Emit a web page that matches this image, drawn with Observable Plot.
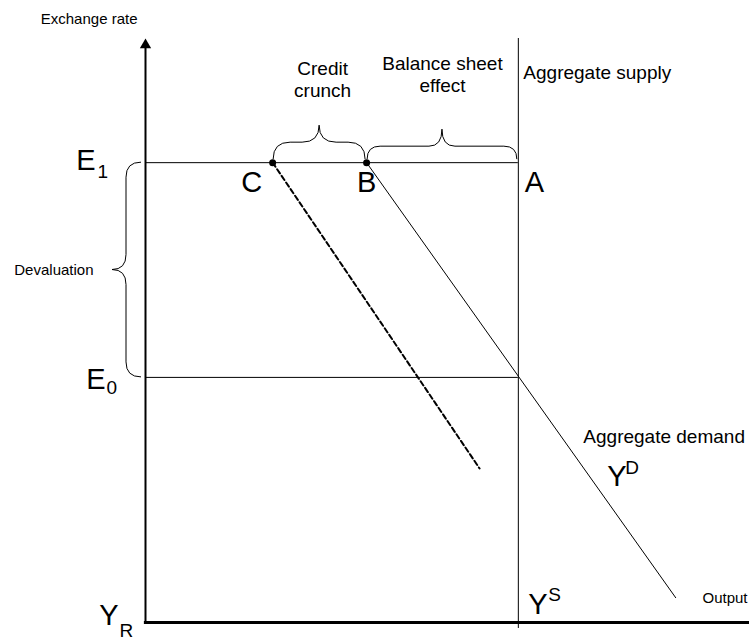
<!DOCTYPE html>
<html><head><meta charset="utf-8">
<script src="https://cdn.jsdelivr.net/npm/d3@7"></script>
<script src="https://cdn.jsdelivr.net/npm/@observablehq/plot@0.6"></script>
<style>body{margin:0;background:#fff}</style>
</head><body><div id="chart"></div>
<script>
// Abstract units: output (x) 0..162 with aggregate supply Y^S = 100; exchange rate (y) 0..127 with E1 = 100
const xMax = 162, yMax = 127;
const outputSupply = 100;
const rateNames = ["1", "0"];
const rateValues = [100, 53.3];
const demandOutput = [59.3, 142.2];
const demandRate = [100, 5.4];
const crunchOutput = [34.1, 89.6];
const crunchRate = [100, 33.5];
const pointNames = ["C", "B", "A"];
const pointOutput = [34.1, 59.3, 100];
const braceNames = ["Credit\ncrunch", "Balance sheet\neffect"];
const braceFrom = [34.1, 59.3];
const braceTo = [59.3, 100];

const E1 = rateValues[0], E0 = rateValues[1];
const demand = demandOutput.map((x, i) => ({x, y: demandRate[i]}));
const crunch = crunchOutput.map((x, i) => ({x, y: crunchRate[i]}));
const points = pointNames.map((n, i) => ({n, x: pointOutput[i], y: E1}));

const FONT = "Liberation Sans, Arial, Helvetica, sans-serif";

function lbl(t, x, y, o) {
  return Plot.text([{t, x, y}], {x: "x", y: "y", text: "t", fill: "black", fontFamily: FONT, ...o});
}

// braces drawn through the plot's scales
function braces(index, scales) {
  const X = scales.x, Y = scales.y;
  const g = d3.create("svg:g").attr("fill", "none").attr("stroke", "black").attr("stroke-width", 1);
  // horizontal braces (pointing up) above the E1 line
  const spec = [{r: 17, t: 17}, {r: 13, t: 17}];
  braceFrom.forEach((a, i) => {
    const x0 = X(a) + 1, x1 = X(braceTo[i]) - 1, y0 = Y(E1) - 3;
    const {r, t} = spec[i];
    const xm = (x0 + x1) / 2, yf = y0 - r, yt = yf - t;
    g.append("path").attr("d",
      `M${x0},${y0}Q${x0},${yf} ${x0 + r},${yf}L${xm - r},${yf}Q${xm},${yf} ${xm},${yt}` +
      `Q${xm},${yf} ${xm + r},${yf}L${x1 - r},${yf}Q${x1},${yf} ${x1},${y0}`);
  });
  // vertical devaluation brace (pointing left) between E1 and E0
  const xb = X(0) - 4, ya = Y(E1), yb = Y(E0), r = 15, t = 14;
  const xf = xb - r, xt = xf - t, ym = (ya + yb) / 2;
  g.append("path").attr("d",
    `M${xb},${ya}Q${xf},${ya} ${xf},${ya + r}L${xf},${ym - r}Q${xf},${ym} ${xt},${ym}` +
    `Q${xf},${ym} ${xf},${ym + r}L${xf},${yb - r}Q${xf},${yb} ${xb},${yb}`);
  return g.node();
}

const chart = Plot.plot({
  width: 749,
  height: 641,
  marginLeft: 145,
  marginRight: 0,
  marginTop: 38,
  marginBottom: 19,
  x: {domain: [0, xMax], axis: null},
  y: {domain: [0, yMax], axis: null},
  style: {fontFamily: FONT, background: "white", overflow: "visible"},
  marks: [
    // axes
    Plot.ruleX([0], {y1: 0, y2: yMax - 2, stroke: "black", strokeWidth: 2}),
    Plot.dot([0], {x: () => 0, y: () => yMax, symbol: "triangle", r: 4.2, fill: "black", stroke: "none", dy: 6.5}),
    Plot.ruleY([0], {x1: -0.3, x2: xMax, stroke: "black", strokeWidth: 3}),
    // aggregate supply
    Plot.ruleX([outputSupply], {y1: -1.3, y2: yMax, stroke: "black", strokeWidth: 1}),
    // exchange rate levels
    Plot.ruleY(rateValues, {x1: 0, x2: outputSupply, stroke: "black", strokeWidth: 1}),
    // aggregate demand
    Plot.line(demand, {x: "x", y: "y", stroke: "black", strokeWidth: 1}),
    Plot.line(crunch, {x: "x", y: "y", stroke: "black", strokeWidth: 2, strokeDasharray: "5,3"}),
    Plot.dot(points.slice(0, 2), {x: "x", y: "y", r: 3.5, fill: "black", stroke: "none"}),
    braces,
    // point labels
    lbl("C", pointOutput[0], E1, {fontSize: 29, dx: -21, dy: 20}),
    lbl("B", pointOutput[1], E1, {fontSize: 29, dx: 0, dy: 20}),
    lbl("A", pointOutput[2], E1, {fontSize: 29, dx: 16, dy: 20}),
    // exchange rate labels
    lbl("E", 0, E1, {fontSize: 29, textAnchor: "end", dx: -50, dy: -2}),
    lbl(rateNames[0], 0, E1, {fontSize: 19, textAnchor: "start", dx: -48, dy: 9}),
    lbl("E", 0, E0, {fontSize: 29, textAnchor: "end", dx: -40, dy: 2}),
    lbl(rateNames[1], 0, E0, {fontSize: 19, textAnchor: "start", dx: -39, dy: 11}),
    lbl("Devaluation", 0, (E0 + E1) / 2, {fontSize: 15, textAnchor: "end", dx: -52}),
    lbl("Exchange rate", 0, yMax, {fontSize: 15, textAnchor: "end", dx: -8, dy: -19}),
    // brace labels
    lbl(braceNames[0], (braceFrom[0] + braceTo[0]) / 2, E1, {fontSize: 19, lineHeight: 1.15, dx: 3, dy: -84}),
    lbl(braceNames[1], (braceFrom[1] + braceTo[1]) / 2, E1, {fontSize: 19, lineHeight: 1.2, dx: 0, dy: -89}),
    lbl("Aggregate supply", outputSupply, yMax, {fontSize: 19, textAnchor: "start", dx: 5, dy: 34}),
    lbl("Aggregate demand", outputSupply, E0, {fontSize: 19, textAnchor: "start", dx: 65, dy: 60}),
    lbl("Y", outputSupply, E0, {fontSize: 29, textAnchor: "start", dx: 89, dy: 99}),
    lbl("D", outputSupply, E0, {fontSize: 19, textAnchor: "start", dx: 107, dy: 91}),
    lbl("Y", outputSupply, 0, {fontSize: 29, textAnchor: "start", dx: 10, dy: -18}),
    lbl("S", outputSupply, 0, {fontSize: 19, textAnchor: "start", dx: 30, dy: -28}),
    lbl("Y", 0, 0, {fontSize: 29, textAnchor: "end", dx: -27, dy: -7}),
    lbl("R", 0, 0, {fontSize: 19, textAnchor: "start", dx: -26, dy: 8}),
    lbl("Output", xMax, 0, {fontSize: 15, textAnchor: "end", dx: -2, dy: -24})
  ]
});
document.getElementById("chart").appendChild(chart);
</script>
</body></html>
